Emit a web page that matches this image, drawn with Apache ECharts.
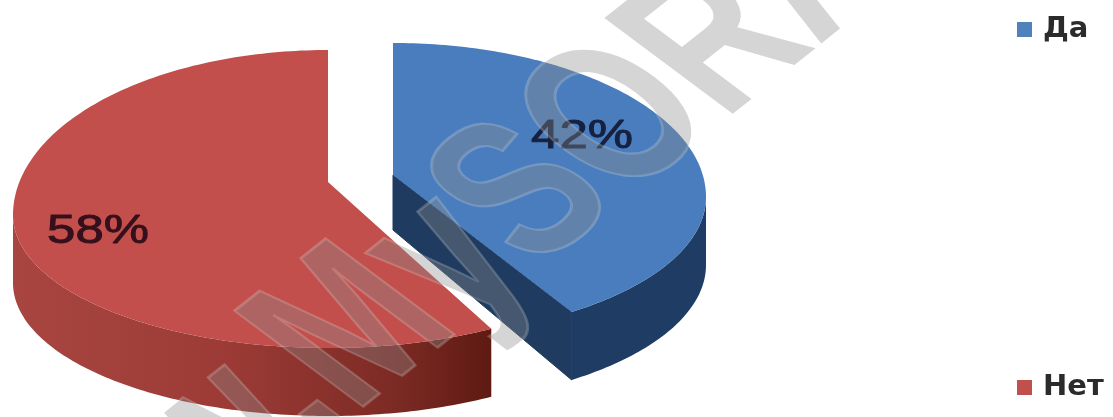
<!DOCTYPE html>
<html><head><meta charset="utf-8">
<style>html,body{margin:0;padding:0;background:#fff}#c{width:1113px;height:417px;filter:blur(0.7px)}</style>
<script src="https://cdn.jsdelivr.net/npm/echarts@6/dist/echarts.min.js"></script>
</head><body><div id="c"></div>
<script>
const categories = ['Да', 'Нет'];
const shares = [42, 58];
const labelFont = '41px "Liberation Sans", sans-serif';
const watermark = 'www.MySORA';

const chart = echarts.init(document.getElementById('c'), null, {renderer: 'canvas'});
const total = shares.reduce((a, b) => a + b, 0);

// pseudo-3D geometry of each exploded slice
const views = [
  {cx: 393, cy: 197, apexY: 175, rx: 313, up: 154, down: 140, depth: 68, backDepth: 55, warp: 6.2,
   top: '#4a7dbd', edge: '#1f3c64', wall: '#1f3c60',
   label: [582, 137], labelColor: '#17213f'},
  {cx: 328, cy: 215, apexY: 182, rx: 315, up: 165, down: 133, depth: 68, backDepth: 68, warp: 2.5,
   top: '#c24f4b', edge: '#9c3c38', wall: '#6b2019',
   label: [98, 232], labelColor: '#35101c'}
];

function slicePoint(v, deg, dy) {
  const rad = deg * Math.PI / 180;
  const c = Math.cos(rad), s = Math.sin(rad);
  return [v.cx + v.rx * s, v.cy - (c >= 0 ? v.up : v.down) * c + (dy || 0)];
}
function warped(v, a) { return a - v.warp * Math.sin(a * Math.PI / 360); }
function faces(t) { return Math.cos(t * Math.PI / 180) <= 0.02; }

function makeRender(idx) {
  return function (params, api) {
    const before = shares.slice(0, idx).reduce((a, b) => a + b, 0);
    const from = before / total * 360;
    const to = from + api.value(0) / total * 360;
    const v = views[idx];
    const ts = [];
    for (let a = from; a < to; a += 1) ts.push(warped(v, a));
    ts.push(warped(v, to));
    const arc = ts.map(t => slicePoint(v, t));
    const end = arc[arc.length - 1];
    const apex = [v.cx, v.apexY];
    const kids = [];
    // visible outer rim: only where it faces the viewer
    const rim = ts.filter(faces).map(t => slicePoint(v, t));
    const rimPoly = rim.concat(rim.slice().reverse().map(p => [p[0], p[1] + v.depth]));
    const rimFill = idx === 1
      ? new echarts.graphic.LinearGradient(0, 0, 1, 0, [
          {offset: 0, color: '#a84541'}, {offset: 0.45, color: '#9c3b36'},
          {offset: 0.8, color: '#7c2a24'}, {offset: 1, color: '#5e1a12'}])
      : v.edge;
    kids.push({type: 'polygon', shape: {points: rimPoly}, style: {fill: rimFill}});
    if (idx === 0) {
      // cut face seen below the blue slice
      kids.push({type: 'polygon', shape: {points: [apex, end, [end[0], end[1] + v.depth], [apex[0], apex[1] + v.backDepth]]},
        style: {fill: v.wall, stroke: v.wall, lineWidth: 1}});
    }
    kids.push({type: 'polygon', shape: {points: [apex].concat(arc)}, style: {fill: v.top}});
    kids.push({type: 'text', x: v.label[0], y: v.label[1], scaleX: 1.24,
      style: {text: api.value(0) + '%', font: labelFont, fill: v.labelColor, stroke: v.labelColor, lineWidth: 1, align: 'center', verticalAlign: 'middle'}, z2: 5});
    return {type: 'group', children: kids};
  };
}

chart.setOption({
  animation: false,
  legend: {
    orient: 'vertical', left: 1012, top: 10, itemGap: 329, itemWidth: 15, itemHeight: 15,
    icon: 'rect', data: categories,
    textStyle: {fontFamily: '"DejaVu Sans", sans-serif', fontWeight: 'bold', fontSize: 29, color: '#2b2b2b', padding: [0, 0, 0, 6]}
  },
  series: categories.map((name, i) => ({
    type: 'custom', name, coordinateSystem: 'none', renderItem: makeRender(i), z: 2,
    data: [[shares[i]]], itemStyle: {color: i === 0 ? '#4f81bd' : '#c0504d'}, silent: true
  })),
  graphic: [{
    type: 'group', scaleX: 1.3, x: 414, y: 287, silent: true, zlevel: 3,
    children: [{
      type: 'text', rotation: 0.8, scaleX: 0.72, zlevel: 3, z: 50,
      style: {text: watermark, font: 'bold 200px "Liberation Sans", sans-serif', fill: 'rgba(138,138,138,0.36)',
        stroke: 'rgba(255,255,255,0.22)', lineWidth: 2.5, align: 'center', verticalAlign: 'middle'}
    }]
  }]
});
</script></body></html>
